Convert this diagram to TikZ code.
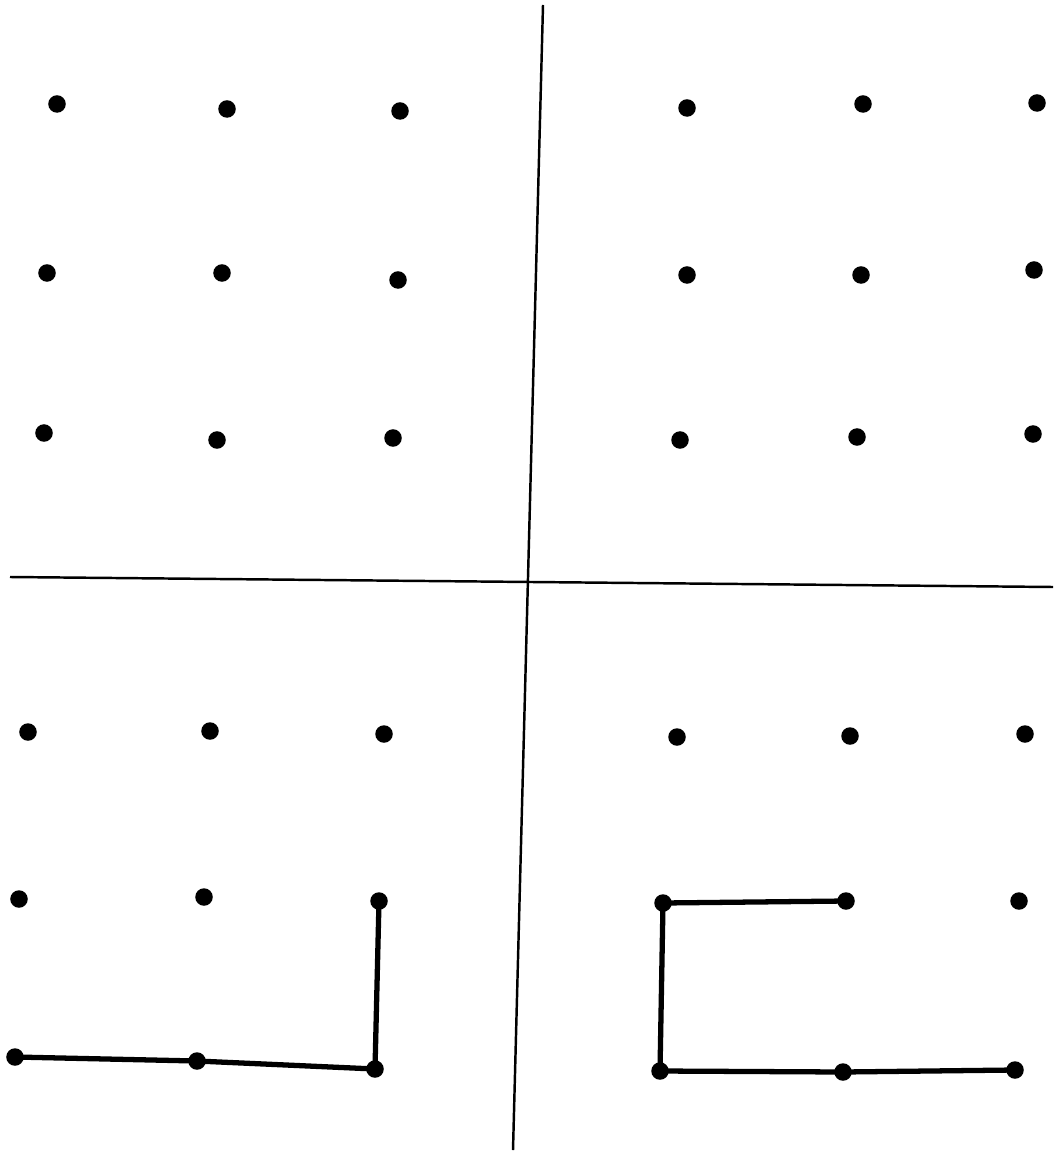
\documentclass[tikz,border=0pt]{standalone}
\usetikzlibrary{positioning}
\tikzset{
  dot/.style={circle,fill=black,inner sep=0pt,minimum size=1.75mm},
  edge/.style={line width=1.5pt},
  axis/.style={line width=0.7pt}
}
\begin{document}
\begin{tikzpicture}[x=0.01cm,y=-0.01cm]
  \useasboundingbox (0,0) rectangle (1056,1155);
  % axes
  \coordinate (vtop) at (543,5);
  \coordinate (vbot) at (513,1150);
  \coordinate (hleft) at (10,577);
  \coordinate (hright) at (1053,587);
  \draw[axis] (vtop) -- (vbot);
  \draw[axis] (hleft) -- (hright);
  % top left
  \foreach \n/\x/\y in {tla/57/104, tlb/227/109, tlc/400/111,
                        tld/47/273, tle/222/273, tlf/398/280,
                        tlg/44/433, tlh/217/440, tli/393/438}
    \node[dot] (\n) at (\x,\y) {};
  % top right
  \foreach \n/\x/\y in {tra/687/108, trb/863/104, trc/1037/103,
                        trd/687/275, tre/861/275, trf/1034/270,
                        trg/680/440, trh/857/437, tri/1033/434}
    \node[dot] (\n) at (\x,\y) {};
  % bottom left
  \foreach \n/\x/\y in {bla/28/732, blb/210/731, blc/384/734,
                        bld/19/899, ble/204/897, blf/379/901,
                        blg/15/1057, blh/197/1061, bli/375/1069}
    \node[dot] (\n) at (\x,\y) {};
  % bottom right
  \foreach \n/\x/\y in {bra/677/737, brb/850/736, brc/1025/734,
                        brd/663/903, bre/846/901, brf/1019/901,
                        brg/660/1071, brh/843/1072, bri/1015/1070}
    \node[dot] (\n) at (\x,\y) {};
  % paths
  \draw[edge] (blg.center) -- (blh.center) -- (bli.center) -- (blf.center);
  \draw[edge] (bre.center) -- (brd.center) -- (brg.center) -- (brh.center) -- (bri.center);
\end{tikzpicture}
\end{document}
